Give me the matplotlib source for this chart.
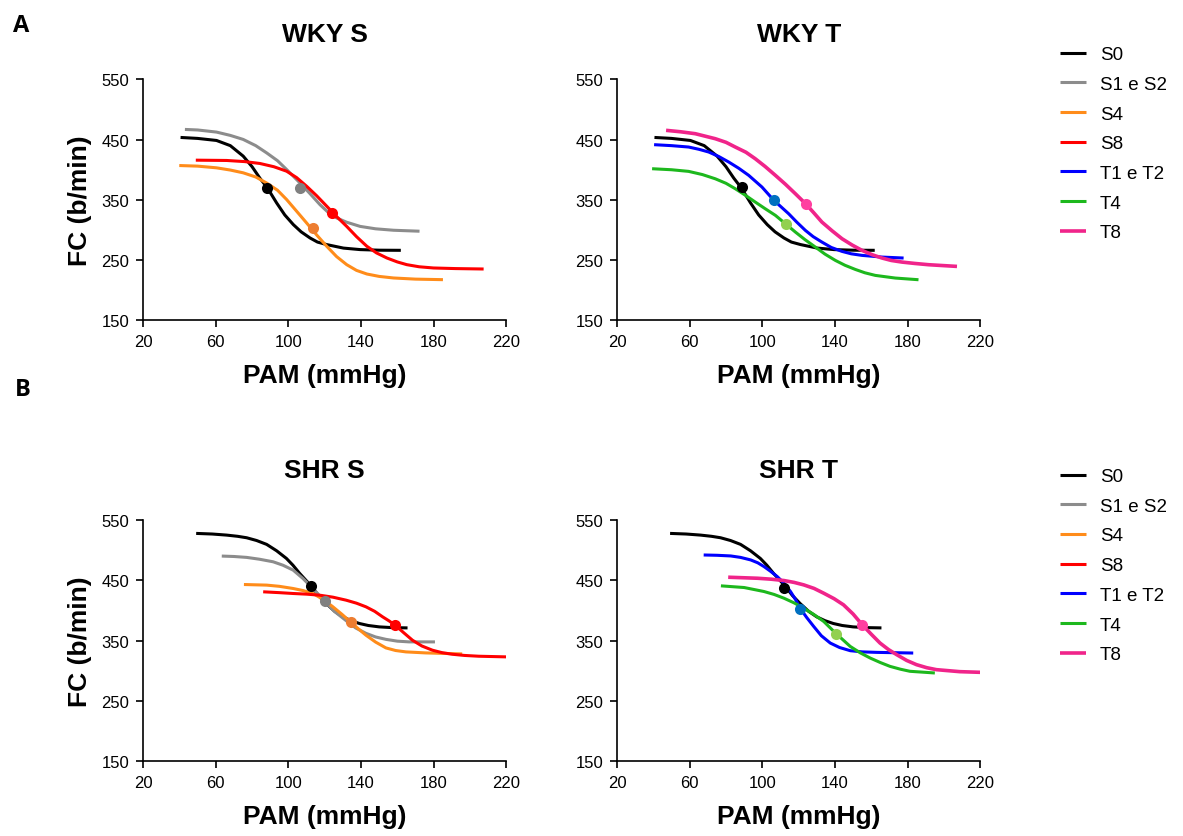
import matplotlib
matplotlib.use('Agg')
import matplotlib.pyplot as plt

plt.rcParams['font.family'] = ['Liberation Sans', 'DejaVu Sans']

labels = ['S0', 'S1 e S2', 'S4', 'S8', 'T1 e T2', 'T4', 'T8']
line_colors = ['#000000', '#8c8c8c', '#ff8c1a', '#ff0000', '#0000ff', '#1db81d', '#f0248a']
dot_colors = ['#000000', '#808080', '#ed7d31', '#ff0000', '#0070c0', '#92d050', '#ff3fa0']

# WKY curves (PAM mmHg, FC b/min)
wky_s0_x = [40.6, 50, 60.4, 68, 75.1, 80, 84.3, 88.4, 93.5, 98, 102.7, 107, 111.9, 116, 121.1, 130.3, 139.5, 150, 161.9]
wky_s0_y = [453.6, 452, 448.6, 440, 422.6, 405, 386, 370, 345, 325, 309, 297, 286.8, 280, 275.8, 270, 267.5, 266.5, 266.3]
wky_s12_x = [43, 50, 60.4, 68, 75.1, 82, 88, 94, 99, 106.4, 112, 117.4, 122, 126.6, 132, 139.5, 148, 157.9, 172.2]
wky_s12_y = [466.9, 466, 462.5, 457, 450.3, 440, 428, 415, 400.4, 378, 360, 342, 329, 320, 313, 306, 302, 299.6, 298]
wky_s4_x = [39.9, 50, 60.4, 68, 75.1, 82, 88, 94, 99, 104, 110, 115.5, 121.1, 126.5, 132.1, 137.5, 143.2, 150, 157.9, 170, 185.1]
wky_s4_y = [407, 406, 403.2, 399.5, 394.9, 388, 378, 366, 350.6, 333, 311.8, 292, 273, 256, 242.5, 233, 227, 223, 220.4, 218.5, 217.6]
wky_s8_x = [49, 66, 76, 84.3, 92, 99, 104.5, 110, 115.5, 121.1, 126.5, 132.1, 137.5, 143.2, 148.5, 154.2, 160, 165.2,
            172, 179.9, 192, 207.5]
wky_s8_y = [415.9, 415.4, 413.5, 410.4, 405, 397.6, 387, 372.7, 357, 339.5, 322.5, 306, 289, 273, 262, 253.6, 247, 242.5,
            239, 237, 236, 235.3]
wky_t12_x = [40.4, 50, 59.4, 65, 70.5, 76, 81.5, 87, 92.5, 99.8, 106.2, 114.5, 119, 123.7, 128, 132.8, 138, 143.9, 149,
             154.9, 165.9, 177.8]
wky_t12_y = [441.6, 440, 437.7, 434, 429.4, 422, 412.8, 402.5, 390.7, 371.3, 349.7, 327, 313, 299.4, 289, 280, 271, 264.5,
             260.5, 257.9, 255.1, 253.5]
wky_t4_x = [39.3, 50, 59.4, 67, 74.1, 80, 85.1, 90.5, 96.1, 101.5, 107.2, 112.5, 118.2, 123.5, 129.2, 134.5, 140.2, 145.5,
            151.2, 156.5, 162.2, 173.2, 186]
wky_t4_y = [401.7, 400, 397.3, 392, 385, 377.5, 368.5, 358, 346.4, 335.5, 324.3, 311, 296.6, 284, 271.7, 260, 249.6, 241.5,
            234.6, 229, 224.7, 220.3, 217.5]
wky_t8_x = [47, 55, 63.1, 74.1, 80, 85.1, 91, 96.1, 101.5, 107.2, 112.7, 118.2, 124, 128.5, 132.8, 138.5, 143.9, 149.5,
            154.9, 160.5, 165.9, 171, 176.9, 184, 191.6, 207.2]
wky_t8_y = [465.4, 463, 459.8, 451.5, 445.5, 437.7, 429, 418.3, 405.5, 390.7, 376, 360.2, 343.1, 328, 313.2, 298.5, 285.5,
            275, 266.2, 259, 253.5, 249.5, 246.8, 244.5, 242.4, 239.6]

# SHR curves
shr_s0_x = [49.2, 58, 66, 72, 77, 82.5, 88, 93.5, 98.9, 102.5, 106.2, 109.5, 112.6, 116.5, 120.8, 125.5, 130, 134.5,
            139.1, 144, 150, 157, 165.6]
shr_s0_y = [527.8, 526.8, 525, 523, 520.6, 516, 509.6, 499, 486.3, 475, 461.4, 450.5, 440.3, 425, 411.5, 398.5, 389.3, 383,
            378.3, 375, 372.7, 371.5, 371]
shr_s12_x = [63.3, 70, 77, 84, 91.6, 97, 102.6, 108, 113.5, 116.7, 119.9, 125.5, 131.8, 137, 142.7, 148, 153.7, 160,
             166.5, 180.7]
shr_s12_y = [490.2, 489.5, 488, 485, 480.7, 475, 466.9, 453, 436.4, 426, 415.4, 398, 383, 371, 362, 356, 352, 349,
             347.8, 347.8]
shr_s4_x = [75.5, 88, 95, 102.6, 108, 113.5, 119, 124.5, 129.5, 134.2, 138.5, 142.7, 148, 153.7, 159, 164.7, 175.6, 195.7]
shr_s4_y = [443, 442, 440, 436.4, 433, 428.1, 418.5, 406, 393.5, 381, 369.5, 358.9, 347.5, 337.8, 333.5, 331.2, 329.5, 327.8]
shr_s8_x = [86.1, 95, 102.6, 110, 117.2, 124.5, 131.8, 137.5, 142.7, 147.5, 151.9, 155.5, 158.8, 163.5, 168.3, 173.5,
            179.3, 184.5, 190.2, 197, 204.8, 220.4]
shr_s8_y = [430.9, 429.5, 428.1, 427, 425.3, 422, 417, 412, 406, 398.5, 389.3, 382.5, 375.5, 363, 350.6, 341,
            334, 330, 327.3, 325.3, 324, 322.9]
shr_t12_x = [67.7, 75, 82.6, 88, 93.6, 97.5, 100.9, 104.5, 108.2, 112, 115.5, 118.5, 121, 124.5, 128.3, 132.5, 137.4,
             142.5, 148.4, 155, 163, 183.1]
shr_t12_y = [492, 491.5, 490.4, 488, 483.8, 479, 472.8, 465, 456.2, 445, 431.4, 417, 402.7, 388, 373.4, 358, 345.9,
             338.5, 333.2, 331.2, 330.4, 329.3]
shr_t4_x = [77.2, 90, 100.9, 106.5, 111.9, 117.5, 122.8, 128.5, 133.8, 140.7, 148.4, 154, 159.4, 165, 170.3, 176, 181.3,
            195]
shr_t4_y = [440.8, 438, 431.4, 426.5, 420.3, 412.5, 403.8, 393, 381.7, 361.3, 340.3, 329.5, 321, 313.5, 307.2, 302.5, 299,
            296.2]
shr_t8_x = [81.2, 97.3, 105, 111.9, 117.5, 122.8, 128.5, 133.8, 139.5, 144.7, 150, 155, 160, 164.8, 169.5, 174, 179.5,
            184.9, 190.5, 195.9, 208.7, 220]
shr_t8_y = [455.1, 453.4, 451.8, 449.6, 446.5, 442.4, 436.5, 428.6, 419.5, 409.3, 394, 376.2, 360.5, 345.9, 335, 326.6, 317,
            310, 305, 301.7, 298.4, 297.3]

# midpoints (dots): S0, S1/T1, S4/T4, S8/T8
wky_s_mid_x = [88.4, 106.4, 113.4, 123.9]
wky_s_mid_y = [370.0, 370.0, 303.5, 328.4]
wky_t_mid_x = [88.8, 106.2, 113.2, 124.0]
wky_t_mid_y = [371.3, 349.7, 309.3, 343.1]
shr_s_mid_x = [112.6, 119.9, 134.2, 158.8]
shr_s_mid_y = [440.3, 415.4, 381.0, 375.5]
shr_t_mid_x = [111.9, 121.0, 140.7, 155.0]
shr_t_mid_y = [438.0, 402.7, 361.3, 376.2]

x_ticks = [20, 60, 100, 140, 180, 220]
y_ticks = [150, 250, 350, 450, 550]


def draw_panel(ax, curves, color_idx, mid_x, mid_y, title, show_ylabel, title_pad):
    lines = []
    for (cx, cy), ci in zip(curves, color_idx):
        lw = 2.6 if ci == 6 else 2.2
        ln, = ax.plot(cx, cy, color=line_colors[ci], lw=lw, solid_capstyle='butt',
                      solid_joinstyle='round', zorder=2)
        lines.append(ln)
    for mx, my, ci in zip(mid_x, mid_y, color_idx):
        ax.plot(mx, my, 'o', color=dot_colors[ci], ms=8, mec='none', zorder=3)
    ax.set_xlim(20, 220)
    ax.set_ylim(150, 550)
    ax.set_xticks(x_ticks)
    ax.set_yticks(y_ticks)
    ax.spines['top'].set_visible(False)
    ax.spines['right'].set_visible(False)
    for s in ['left', 'bottom']:
        ax.spines[s].set_linewidth(1.2)
    ax.tick_params(direction='out', length=5, width=1.2, labelsize=12, pad=5)
    ax.set_xlabel('PAM (mmHg)', fontsize=19, fontweight='bold', labelpad=10)
    if show_ylabel:
        ax.set_ylabel('FC (b/min)', fontsize=19, fontweight='bold', labelpad=7)
    ax.set_title(title, fontsize=19, fontweight='bold', pad=title_pad)
    return lines


fig = plt.figure(figsize=(11.83, 8.37), dpi=100)
ax1 = fig.add_axes([0.121, 0.616, 0.307, 0.288])
ax2 = fig.add_axes([0.5216, 0.616, 0.307, 0.288])
ax3 = fig.add_axes([0.121, 0.0895, 0.307, 0.288])
ax4 = fig.add_axes([0.5216, 0.0895, 0.307, 0.288])

la = draw_panel(ax1, [(wky_s0_x, wky_s0_y), (wky_s12_x, wky_s12_y), (wky_s4_x, wky_s4_y), (wky_s8_x, wky_s8_y)],
                [0, 1, 2, 3], wky_s_mid_x, wky_s_mid_y, 'WKY S', True, 27.5)
lb = draw_panel(ax2, [(wky_s0_x, wky_s0_y), (wky_t12_x, wky_t12_y), (wky_t4_x, wky_t4_y), (wky_t8_x, wky_t8_y)],
                [0, 4, 5, 6], wky_t_mid_x, wky_t_mid_y, 'WKY T', False, 27.5)
lc = draw_panel(ax3, [(shr_s0_x, shr_s0_y), (shr_s12_x, shr_s12_y), (shr_s4_x, shr_s4_y), (shr_s8_x, shr_s8_y)],
                [0, 1, 2, 3], shr_s_mid_x, shr_s_mid_y, 'SHR S', True, 31)
ld = draw_panel(ax4, [(shr_s0_x, shr_s0_y), (shr_t12_x, shr_t12_y), (shr_t4_x, shr_t4_y), (shr_t8_x, shr_t8_y)],
                [0, 4, 5, 6], shr_t_mid_x, shr_t_mid_y, 'SHR T', False, 31)

for handles, top in [(la + lb[1:], 0.9438), (lc + ld[1:], 0.4397)]:
    fig.legend(handles, labels, loc='upper left', bbox_to_anchor=(0.896, top),
               frameon=False, fontsize=13.5, handlelength=1.39, handletextpad=0.75,
               labelspacing=0.67, borderpad=0, borderaxespad=0)

fig.text(0.018, 1 - 26 / 837, 'A', fontsize=17, fontweight='bold', family=['Open Sans', 'DejaVu Sans'],
         ha='center', va='center')
fig.text(0.019, 1 - 390 / 837, 'B', fontsize=17, fontweight='bold', family=['Open Sans', 'DejaVu Sans'],
         ha='center', va='center')

fig.savefig('out.png', dpi=100)
